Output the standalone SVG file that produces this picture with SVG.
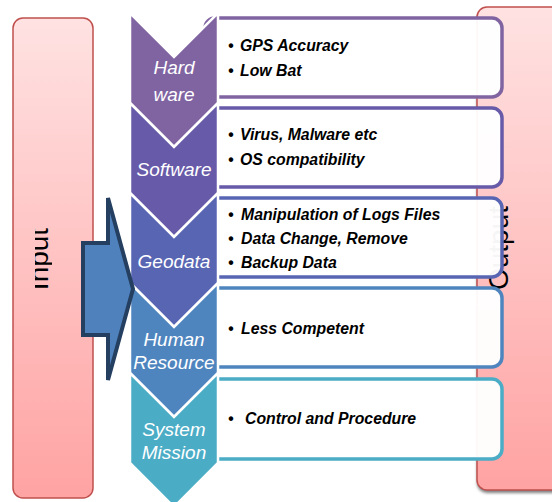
<svg xmlns="http://www.w3.org/2000/svg" width="552" height="502" viewBox="0 0 552 502">
  <defs>
    <linearGradient id="pinkFill" x1="0" y1="0" x2="0" y2="1">
      <stop offset="0" stop-color="#ffe2e2"/>
      <stop offset="1" stop-color="#ffa3a3"/>
    </linearGradient>
    <filter id="softShadow" x="-10%" y="-10%" width="120%" height="120%">
      <feGaussianBlur stdDeviation="1.5"/>
    </filter>
    <clipPath id="inputClip">
      <rect x="35" y="18" width="17" height="480"/>
    </clipPath>
  </defs>
  <style>
    .side { fill: url(#pinkFill); stroke: #c0504d; stroke-width: 1.5; }
    .side-label { font-family: "Liberation Sans", Arial, sans-serif; font-size: 28px; fill: #000; text-anchor: middle; }
    .card { fill: #fff; fill-opacity: 0.96; stroke-width: 3.5; }
    .chev { stroke: #fff; stroke-width: 2.5; stroke-linejoin: miter; }
    .chev-label { font-family: "Liberation Sans", Arial, sans-serif; font-style: italic; font-size: 19px; fill: #fff; text-anchor: middle; }
    .item { font-family: "Liberation Sans", Arial, sans-serif; font-style: italic; font-weight: bold; font-size: 15.8px; fill: #000; }
    .arrow { fill: #4f81bd; stroke: #243f60; stroke-width: 4; stroke-linejoin: miter; }
  </style>

  <!-- left input panel -->
  <g id="input">
    <rect class="side" x="13" y="18" width="80" height="480" rx="10"/>
    <g clip-path="url(#inputClip)">
      <text class="side-label" transform="translate(48,259) rotate(-90)">Input</text>
    </g>
  </g>

  <!-- right output panel (sits behind the cards) -->
  <g id="output">
    <rect x="477" y="10" width="90" height="483" rx="10" fill="#7f7f7f" filter="url(#softShadow)"/>
    <rect class="side" x="477" y="7" width="90" height="483" rx="10"/>
    <text class="side-label" transform="translate(508,248) rotate(-90)">Output</text>
  </g>

  <!-- detail cards -->
  <g id="card-hardware">
    <rect class="card" x="205" y="18" width="297" height="79" rx="10" stroke="#8064a2"/>
    <text class="item" x="228" y="51">•</text><text class="item" x="240" y="51">GPS Accuracy</text>
    <text class="item" x="228" y="76">•</text><text class="item" x="240" y="76">Low Bat</text>
  </g>
  <g id="card-software">
    <rect class="card" x="205" y="108" width="297" height="79" rx="10" stroke="#675aa8"/>
    <text class="item" x="228" y="140">•</text><text class="item" x="240" y="140">Virus, Malware etc</text>
    <text class="item" x="228" y="165">•</text><text class="item" x="240" y="165">OS compatibility</text>
  </g>
  <g id="card-geodata">
    <rect class="card" x="205" y="198" width="297" height="79" rx="10" stroke="#5865b3"/>
    <text class="item" x="228" y="220">•</text><text class="item" x="241" y="220">Manipulation of Logs Files</text>
    <text class="item" x="228" y="244">•</text><text class="item" x="241" y="244">Data Change, Remove</text>
    <text class="item" x="228" y="268">•</text><text class="item" x="241" y="268">Backup Data</text>
  </g>
  <g id="card-human">
    <rect class="card" x="205" y="288" width="297" height="79" rx="10" stroke="#4f85bf"/>
    <text class="item" x="228" y="334">•</text><text class="item" x="241" y="334">Less Competent</text>
  </g>
  <g id="card-mission">
    <rect class="card" x="205" y="379" width="297" height="80" rx="10" stroke="#4bacc6"/>
    <text class="item" x="228" y="424">•</text><text class="item" x="245" y="424">Control and Procedure</text>
  </g>

  <!-- chevron column -->
  <g id="chevron-hardware">
    <path class="chev" fill="#8064a2" d="M130,13 L174,57 L218,13 L218,103 L174,147 L130,103 Z"/>
    <text class="chev-label" x="174" y="74">Hard</text>
    <text class="chev-label" x="174" y="101">ware</text>
  </g>
  <g id="chevron-software">
    <path class="chev" fill="#675aa8" d="M130,103 L174,147 L218,103 L218,193 L174,237 L130,193 Z"/>
    <text class="chev-label" x="174" y="176">Software</text>
  </g>
  <g id="chevron-geodata">
    <path class="chev" fill="#5865b3" d="M130,193 L174,237 L218,193 L218,283 L174,327 L130,283 Z"/>
    <text class="chev-label" x="174" y="268">Geodata</text>
  </g>
  <g id="chevron-human">
    <path class="chev" fill="#4f85bf" d="M130,283 L174,327 L218,283 L218,373 L174,417 L130,373 Z"/>
    <text class="chev-label" x="174" y="346">Human</text>
    <text class="chev-label" x="174" y="369">Resource</text>
  </g>
  <g id="chevron-mission">
    <path class="chev" fill="#4bacc6" d="M130,373 L174,417 L218,373 L218,463 L174,507 L130,463 Z"/>
    <text class="chev-label" x="174" y="436">System</text>
    <text class="chev-label" x="174" y="459">Mission</text>
  </g>

  <!-- input flow arrow -->
  <g id="connectors">
    <path class="arrow" d="M83,243 L108,243 L108,198 L133,289 L108,380 L108,335 L83,335 Z"/>
  </g>
</svg>
